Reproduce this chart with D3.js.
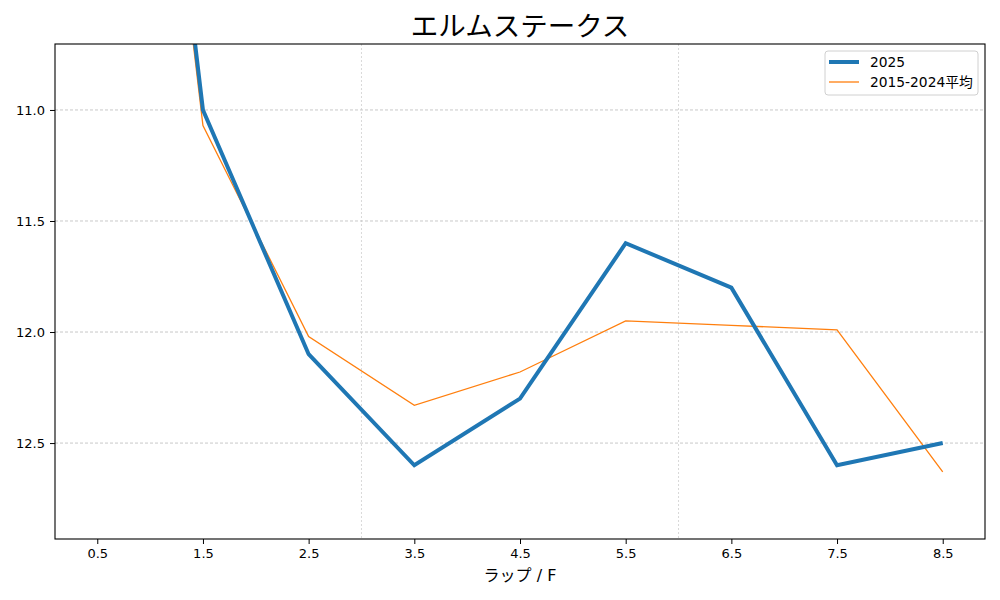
<!DOCTYPE html>
<html>
<head>
<meta charset="utf-8">
<script src="https://cdn.jsdelivr.net/npm/d3@7"></script>
<style>
  body { margin: 0; background: #fff; }
  svg { font-family: "DejaVu Sans", "Noto Sans CJK JP", sans-serif; }
</style>
</head>
<body>
<svg id="chart"></svg>
<script>
// lap positions (furlongs) and lap times
const laps = [0.5, 1.5, 2.5, 3.5, 4.5, 5.5, 6.5, 7.5, 8.5];
const lap2025 = [7.0, 11.0, 12.1, 12.6, 12.3, 11.6, 11.8, 12.6, 12.5];
const lapAvg = [7.05, 11.07, 12.02, 12.33, 12.18, 11.95, 11.97, 11.99, 12.63];
const xTicks = [0.5, 1.5, 2.5, 3.5, 4.5, 5.5, 6.5, 7.5, 8.5];
const yTicks = [11.0, 11.5, 12.0, 12.5];
const xGrid = [3, 6];
const seriesNames = ["2025", "2015-2024平均"];

const margin = { top: 44, right: 15, bottom: 61, left: 55 };
const width = 1000 - margin.left - margin.right;
const height = 600 - margin.top - margin.bottom;

const root = d3.select("#chart")
  .attr("width", width + margin.left + margin.right)
  .attr("height", height + margin.top + margin.bottom);

const svg = root.append("g")
  .attr("transform", `translate(${margin.left},${margin.top})`);

// scales (y inverted: faster laps on top)
const xScale = d3.scaleLinear().domain([0.1, 8.9]).range([0, width]);
const yScale = d3.scaleLinear().domain([10.703, 12.932]).range([0, height]);

svg.append("defs").append("clipPath").attr("id", "clip")
  .append("rect").attr("width", width).attr("height", height);

// grid
svg.append("g").selectAll("line").data(yTicks).enter().append("line")
  .attr("x1", 0).attr("x2", width)
  .attr("y1", d => yScale(d)).attr("y2", d => yScale(d))
  .attr("stroke", "#b0b0b0").attr("stroke-width", 0.7)
  .attr("stroke-dasharray", "3,2");

svg.append("g").selectAll("line").data(xGrid).enter().append("line")
  .attr("x1", d => xScale(d)).attr("x2", d => xScale(d))
  .attr("y1", 0).attr("y2", height)
  .attr("stroke", "#c8c8c8").attr("stroke-width", 0.7)
  .attr("stroke-dasharray", "2,2");

// lines
const line = vals => d3.line()
  .x((d, i) => xScale(laps[i]))
  .y(d => yScale(d))(vals);

const plot = svg.append("g").attr("clip-path", "url(#clip)");

plot.append("path")
  .attr("d", line(lapAvg))
  .attr("fill", "none")
  .attr("stroke", "#ff7f0e")
  .attr("stroke-width", 1.3);

plot.append("path")
  .attr("d", line(lap2025))
  .attr("fill", "none")
  .attr("stroke", "#1f77b4")
  .attr("stroke-width", 4)
  .attr("stroke-linejoin", "miter");

// axes
const xAxis = d3.axisBottom(xScale).tickValues(xTicks).tickFormat(d3.format(".1f")).tickSizeOuter(0).tickSize(5).tickPadding(5);
const yAxis = d3.axisLeft(yScale).tickValues(yTicks).tickFormat(d3.format(".1f")).tickSizeOuter(0).tickSize(5).tickPadding(5);

const gx = svg.append("g")
  .attr("transform", `translate(0,${height})`)
  .call(xAxis);
const gy = svg.append("g").call(yAxis);

[gx, gy].forEach(g => {
  g.select(".domain").remove();
  g.selectAll("text").attr("font-size", 13).attr("fill", "#000")
    .style("font-family", "'DejaVu Sans', sans-serif");
  g.selectAll("line").attr("stroke", "#000");
});

// frame
svg.append("rect")
  .attr("width", width).attr("height", height)
  .attr("fill", "none").attr("stroke", "#000").attr("stroke-width", 1.1);

// title and labels
root.append("text")
  .attr("x", margin.left + width / 2).attr("y", 36)
  .attr("text-anchor", "middle")
  .attr("font-size", 27.5)
  .text("エルムステークス");

root.append("text")
  .attr("x", margin.left + width / 2).attr("y", 581)
  .attr("text-anchor", "middle")
  .attr("font-size", 16)
  .text("ラップ / F");

// legend
const legend = svg.append("g").attr("transform", `translate(${width - 160},7)`);
legend.append("rect")
  .attr("width", 153).attr("height", 44).attr("rx", 3)
  .attr("fill", "#fff").attr("fill-opacity", 0.8)
  .attr("stroke", "#d0d0d0");

const legendItems = [
  { name: seriesNames[0], color: "#1f77b4", w: 4 },
  { name: seriesNames[1], color: "#ff7f0e", w: 1.3 }
];
legendItems.forEach((d, i) => {
  const y = 11 + i * 20;
  legend.append("line")
    .attr("x1", 4).attr("x2", 34).attr("y1", y).attr("y2", y)
    .attr("stroke", d.color).attr("stroke-width", d.w);
  legend.append("text")
    .attr("x", 45).attr("y", y + 5)
    .attr("font-size", 13.8)
    .text(d.name);
});
</script>
</body>
</html>
